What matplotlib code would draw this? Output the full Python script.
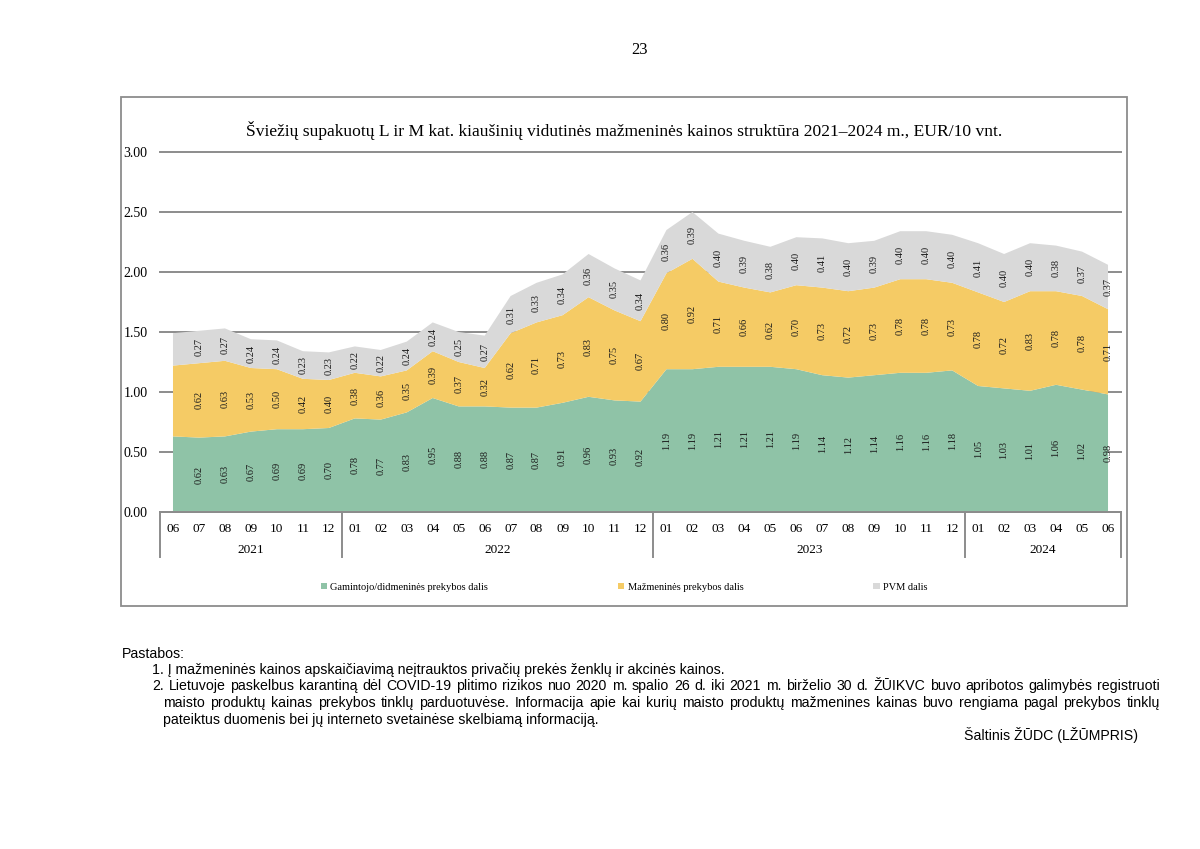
import matplotlib
matplotlib.use("Agg")
import matplotlib.pyplot as plt
from matplotlib.patches import Rectangle, Patch
from matplotlib.transforms import blended_transform_factory

# months 2021-06 .. 2024-06
months = ['06', '07', '08', '09', '10', '11', '12',
          '01', '02', '03', '04', '05', '06', '07', '08', '09', '10', '11', '12',
          '01', '02', '03', '04', '05', '06', '07', '08', '09', '10', '11', '12',
          '01', '02', '03', '04', '05', '06']
years = ['2021', '2022', '2023', '2024']
year_first = [0, 7, 19, 31]   # index of first month of each year
year_last = [6, 18, 30, 36]

# first point (2021-06) has no label in the source, value estimated from the area
producer = [0.63, 0.62, 0.63, 0.67, 0.69, 0.69, 0.70,
            0.78, 0.77, 0.83, 0.95, 0.88, 0.88, 0.87, 0.87, 0.91, 0.96, 0.93, 0.92,
            1.19, 1.19, 1.21, 1.21, 1.21, 1.19, 1.14, 1.12, 1.14, 1.16, 1.16, 1.18,
            1.05, 1.03, 1.01, 1.06, 1.02, 0.98]
retail = [0.59, 0.62, 0.63, 0.53, 0.50, 0.42, 0.40,
          0.38, 0.36, 0.35, 0.39, 0.37, 0.32, 0.62, 0.71, 0.73, 0.83, 0.75, 0.67,
          0.80, 0.92, 0.71, 0.66, 0.62, 0.70, 0.73, 0.72, 0.73, 0.78, 0.78, 0.73,
          0.78, 0.72, 0.83, 0.78, 0.78, 0.71]
vat = [0.27, 0.27, 0.27, 0.24, 0.24, 0.23, 0.23,
       0.22, 0.22, 0.24, 0.24, 0.25, 0.27, 0.31, 0.33, 0.34, 0.36, 0.35, 0.34,
       0.36, 0.39, 0.40, 0.39, 0.38, 0.40, 0.41, 0.40, 0.39, 0.40, 0.40, 0.40,
       0.41, 0.40, 0.40, 0.38, 0.37, 0.37]
series_names = ['Gamintojo/didmeninės prekybos dalis', 'Mažmeninės prekybos dalis', 'PVM dalis']
colors = ['#8fc3a7', '#f5cb65', '#d9d9d9']

title = 'Šviežių supakuotų L ir M kat. kiaušinių vidutinės mažmeninės kainos struktūra 2021–2024 m., EUR/10 vnt.'
notes_head = 'Pastabos:'
note1 = '1. Į mažmeninės kainos apskaičiavimą neįtrauktos privačių prekės ženklų ir akcinės kainos.'
note2 = ['2. Lietuvoje paskelbus karantiną dėl COVID-19 plitimo rizikos nuo 2020 m. spalio 26 d. iki 2021 m. birželio 30 d. ŽŪIKVC buvo apribotos galimybės registruoti',
         'maisto produktų kainas prekybos tinklų parduotuvėse. Informacija apie kai kurių maisto produktų mažmenines kainas buvo rengiama pagal prekybos tinklų',
         'pateiktus duomenis bei jų interneto svetainėse skelbiamą informaciją.']
source = 'Šaltinis ŽŪDC (LŽŪMPRIS)'

W, H = 1200, 849
serif = 'Liberation Serif'
sans = 'Liberation Sans'
note_size = 10.2
grid_col = '#8c8c8c'

fig = plt.figure(figsize=(12, 8.49), dpi=100)


def fx(px):
    return px / W


def fy(py):
    return 1 - py / H


# chart frame
fig.patches.append(Rectangle((fx(121), fy(606)), fx(1127) - fx(121), fy(97) - fy(606),
                             transform=fig.transFigure, fill=False, edgecolor=grid_col, lw=1.3))

ax = fig.add_axes([fx(160), fy(512), fx(1121) - fx(160), fy(152) - fy(512)])
x = list(range(len(months)))
ax.stackplot(x, producer, retail, vat, colors=colors, linewidth=0)
ax.set_xlim(-0.5, len(months) - 0.5)
ax.set_ylim(0, 3)
ax.set_yticks([0, 0.5, 1.0, 1.5, 2.0, 2.5, 3.0])
ax.set_yticklabels(['%.2f' % v for v in ax.get_yticks()], fontfamily=serif, fontsize=10)
ax.yaxis.grid(True, color=grid_col, lw=1.4)
for gl in ax.get_ygridlines():
    gl.set_clip_on(False)
ax.set_axisbelow(True)
for s in ['top', 'right', 'left']:
    ax.spines[s].set_visible(False)
ax.spines['bottom'].set_color(grid_col)
ax.spines['bottom'].set_linewidth(1.4)
ax.tick_params(axis='y', length=0, pad=9)
ax.set_xticks(x)
ax.set_xticklabels(months, fontfamily=serif, fontsize=9.5)
ax.tick_params(axis='x', length=0, pad=8)

# data labels in the middle of each band (first month has none)
base = [0.0] * len(x)
for vals in [producer, retail, vat]:
    for i in x[1:]:
        ax.text(i, base[i] + vals[i] / 2, '%.2f' % vals[i], rotation=90, ha='center', va='center',
                fontfamily=serif, fontsize=7.5, color='#1a1a1a')
    base = [b + v for b, v in zip(base, vals)]

# year level of the category axis
tr = blended_transform_factory(ax.transData, ax.transAxes)
for y, a, b in zip(years, year_first, year_last):
    ax.text((a + b) / 2, -0.105, y, transform=tr, ha='center', va='center', fontfamily=serif, fontsize=9.5)
seps = [-0.5] + [b + 0.5 for b in year_last]
for s in seps:
    ax.plot([s, s], [0, -0.125], transform=tr, color=grid_col, lw=1.4, clip_on=False)

fig.text(fx(624), fy(130), title, ha='center', va='center', fontfamily=serif, fontsize=12.6)

handles = [Patch(facecolor=c, edgecolor='none') for c in colors]
fig.legend(handles, series_names, loc='center', bbox_to_anchor=(fx(624), fy(587)), ncol=3, frameon=False,
           prop={'family': serif, 'size': 7.5}, handlelength=0.6, handleheight=0.6, handletextpad=0.3,
           columnspacing=12.5)

fig.text(fx(640), fy(50), '23', ha='center', va='center', fontfamily=serif, fontsize=12)

# notes
fig.text(fx(122), fy(654), notes_head, ha='left', va='center', fontfamily=sans, fontsize=note_size)
fig.text(fx(152), fy(670), note1, ha='left', va='center', fontfamily=sans, fontsize=note_size)

renderer = fig.canvas.get_renderer()


def justify(line, x0, x1, ypx):
    words = line.split(' ')
    arts = [fig.text(0, fy(ypx), w, ha='left', va='center', fontfamily=sans, fontsize=note_size) for w in words]
    widths = [a.get_window_extent(renderer).width for a in arts]
    gap = (x1 - x0 - sum(widths)) / (len(words) - 1)
    pos = x0
    for a, w in zip(arts, widths):
        a.set_x(fx(pos))
        pos += w + gap


justify(note2[0], 152, 1160, 686)
justify(note2[1], 163, 1160, 703)
fig.text(fx(163), fy(720), note2[2], ha='left', va='center', fontfamily=sans, fontsize=note_size)
fig.text(fx(1138), fy(735), source, ha='right', va='center', fontfamily=sans, fontsize=note_size)

fig.savefig('out.png', dpi=100)
